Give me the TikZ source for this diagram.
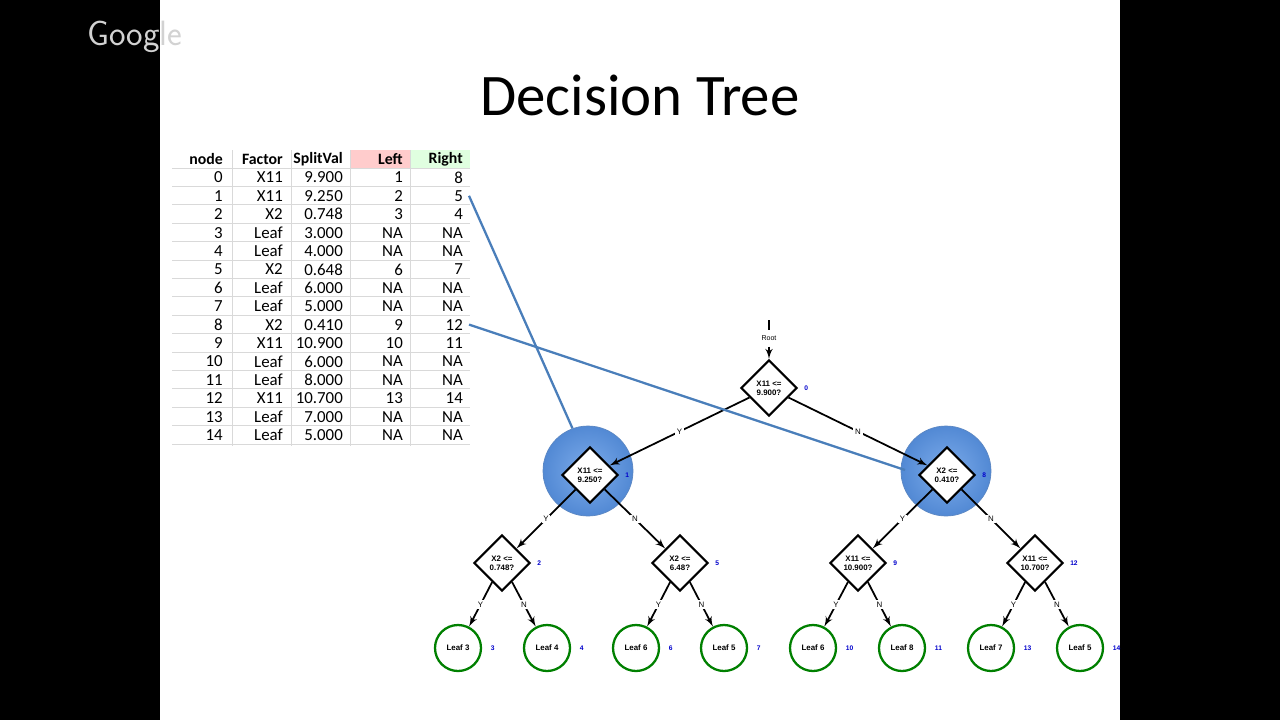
\documentclass[tikz,border=0pt]{standalone}
\usepackage{fontspec}
\setmainfont{Carlito}
\newfontfamily\treefont{Liberation Sans}
\usetikzlibrary{shapes.geometric, arrows, positioning}
\definecolor{glowin}{RGB}{125,172,235}
\definecolor{glowout}{RGB}{82,137,212}
\definecolor{linkblue}{RGB}{74,126,186}

\begin{document}
\begin{tikzpicture}[x=0.02cm, y=-0.02cm]
\tikzstyle{decision} = [diamond, draw=black, line width=1.2pt, fill=white, minimum width=1.12cm, minimum height=1.12cm, inner sep=0pt, align=center, font=\treefont\bfseries\fontsize{4.5}{5}\selectfont]
\tikzstyle{leaf} = [circle, draw=green!50!black, line width=1.3pt, fill=white, minimum size=0.92cm, inner sep=0pt, font=\treefont\bfseries\fontsize{4.5}{5}\selectfont]
\tikzstyle{glow} = [circle, inner color=glowin, outer color=glowout, draw=glowout!80!gray, minimum size=1.8cm]
\tikzstyle{idx} = [text=blue!80!black, font=\treefont\bfseries\fontsize{3.8}{4}\selectfont, anchor=west]
\tikzstyle{line} = [draw, line width=1pt, -latex']
\tikzstyle{elab} = [fill=white, inner sep=1pt, font=\treefont\fontsize{4.5}{5}\selectfont]
\tikzstyle{cell} = [anchor=east, font=\fontsize{9.6}{10}\selectfont]
\tikzstyle{link} = [draw=linkblue, line width=1.3pt]

% slide
\fill[black] (0,0) rectangle (1280,720);
\fill[white] (160,0) rectangle (1120,720);
\useasboundingbox (0,0) rectangle (1280,720);
\node (logo) [text=gray!35, font=\fontsize{20}{20}\selectfont\sffamily] at (135,37) {Google};
\node (title) [font=\fontsize{33.5}{34}\selectfont] at (640,95) {Decision Tree};

% table
\fill[red!20] (351,150) rectangle (410,168);
\fill[green!12] (411,150) rectangle (470,168);
\foreach \r in {0,...,15}
  \draw[gray!30, line width=0.5pt] (172,168+\r*18.4) -- (470,168+\r*18.4);
\foreach \c in {232,291,350,410}
  \draw[gray!30, line width=0.5pt] (\c,150) -- (\c,446);
\foreach \a/\b/\c/\d/\e [count=\i from 0] in {node/Factor/SplitVal/Left/Right,
  0/X11/9.900/1/8, 1/X11/9.250/2/5, 2/X2/0.748/3/4, 3/Leaf/3.000/NA/NA,
  4/Leaf/4.000/NA/NA, 5/X2/0.648/6/7, 6/Leaf/6.000/NA/NA, 7/Leaf/5.000/NA/NA,
  8/X2/0.410/9/12, 9/X11/10.900/10/11, 10/Leaf/6.000/NA/NA, 11/Leaf/8.000/NA/NA,
  12/X11/10.700/13/14, 13/Leaf/7.000/NA/NA, 14/Leaf/5.000/NA/NA} {
  \ifnum\i=0 \tikzset{cell/.append style={font=\fontsize{9}{10}\selectfont\bfseries}}\fi
  \node[cell] at (229,159+\i*18.4) {\a};
  \node[cell] at (289,159+\i*18.4) {\b};
  \node[cell] at (349,159+\i*18.4) {\c};
  \node[cell] at (409,159+\i*18.4) {\d};
  \node[cell] (r\i) at (469,159+\i*18.4) {\e};
}

% tree
\node (g1) [glow] at (588,471) {};
\node (g8) [glow] at (946,471) {};
\coordinate (top) at (769,320);
\node (rootlab) [font=\treefont\fontsize{4}{4}\selectfont] at (769,338) {Root};
\node (n0) [decision] at (769,388) {X11 <=\\9.900?};
\node (n1) [decision] at (590,475) {X11 <=\\9.250?};
\node (n8) [decision] at (947,475) {X2 <=\\0.410?};
\node (n2) [decision] at (502,563) {X2 <=\\0.748?};
\node (n5) [decision] at (680,563) {X2 <=\\6.48?};
\node (n9) [decision] at (858,563) {X11 <=\\10.900?};
\node (n12) [decision] at (1035,563) {X11 <=\\10.700?};
\foreach \n/\k in {n0/0,n1/1,n8/8,n2/2,n5/5,n9/9,n12/12}
  \node[idx] at (\n.east) {\k};

\foreach \x/\t/\k in {458/Leaf 3/3, 547/Leaf 4/4, 636/Leaf 6/6, 724/Leaf 5/7,
  813/Leaf 6/10, 902/Leaf 8/11, 991/Leaf 7/13, 1080/Leaf 5/14} {
  \node[leaf] (l\k) at (\x,648) {\t};
  \node[idx] at ([xshift=1.5pt]l\k.east) {\k};
}

\draw[line width=1.2pt] (top) -- ++(0,10);
\path [line] (rootlab) -- (n0);
\path [line] (n0) -- node [elab] {Y} (n1);
\path [line] (n0) -- node [elab] {N} (n8);
\path [line] (n1) -- node [elab] {Y} (n2);
\path [line] (n1) -- node [elab] {N} (n5);
\path [line] (n8) -- node [elab] {Y} (n9);
\path [line] (n8) -- node [elab] {N} (n12);
\foreach \p/\a/\b in {n2/l3/l4, n5/l6/l7, n9/l10/l11, n12/l13/l14} {
  \path [line] (\p) -- node [elab] {Y} (\a);
  \path [line] (\p) -- node [elab] {N} (\b);
}

% links from table
\path [link] (r2.east) -- (g1.110);
\path [link] (r9.east) -- (905,470);
\end{tikzpicture}
\end{document}
